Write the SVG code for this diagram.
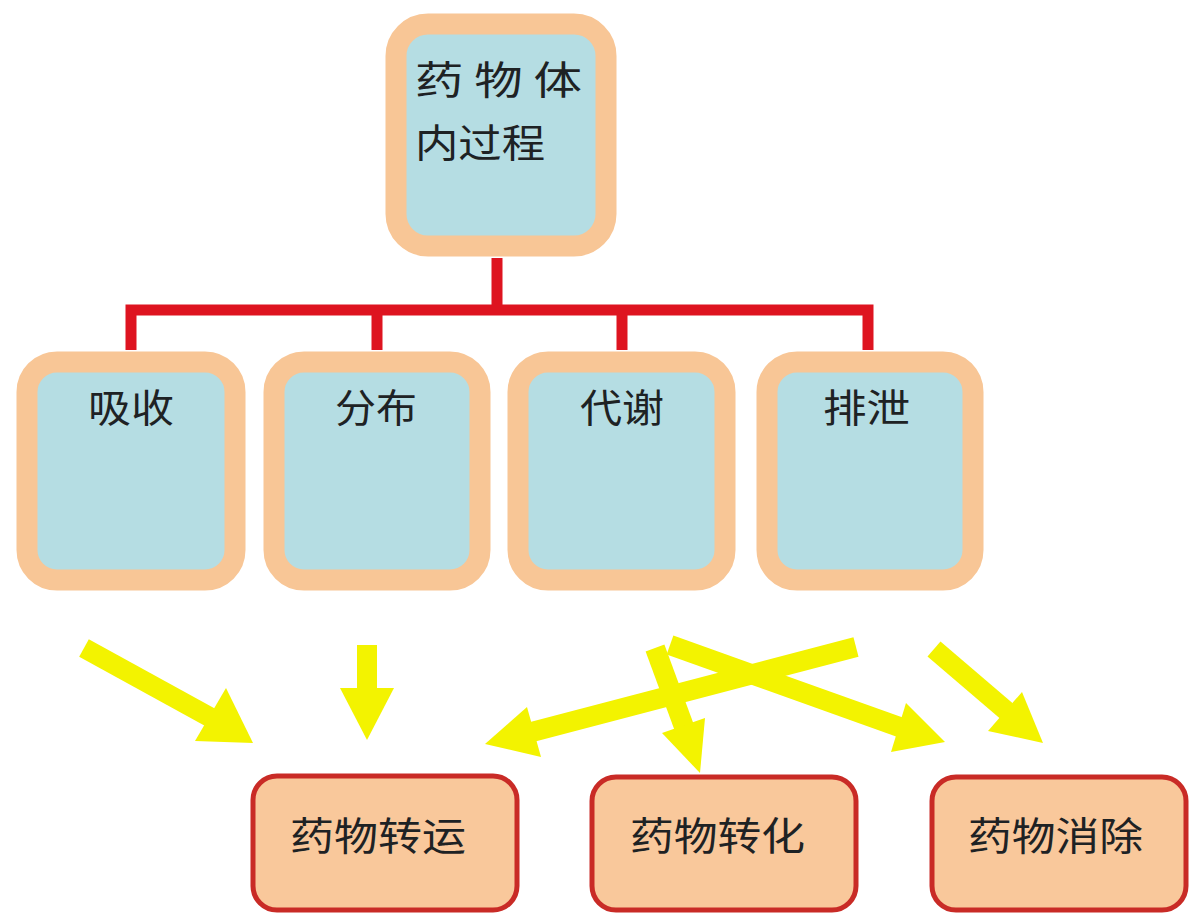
<svg xmlns="http://www.w3.org/2000/svg" width="1191" height="915" viewBox="0 0 1191 915">
<style>
.top{fill:#b5dde3;stroke:#f8c696;stroke-width:21}
.bot{fill:#f9c89b;stroke:#c92b26;stroke-width:5}
.t{font-family:"Noto Sans CJK SC","Noto Sans",sans-serif;font-size:39px;fill:#1e2224}
.red{fill:none;stroke:#de1420;stroke-width:11;stroke-linejoin:miter}
.ys{stroke:#f3f300;stroke-width:20;stroke-linecap:butt;fill:none}
.yh{fill:#f3f300}
</style>
<rect width="1191" height="915" fill="#ffffff"/>
<g id="connectors">
<path class="red" d="M497,258 V310 M131,350 V310 H868 V350 M377,310 V350 M622,310 V350"/>
<g id="a1"><line class="ys" x1="84" y1="648" x2="215" y2="720"/><polygon class="yh" points="253,743 195,741 226,688"/></g>
<g id="a2"><line class="ys" x1="367" y1="645" x2="367" y2="695"/><polygon class="yh" points="367,740 340,688 394,688"/></g>
<g id="a3"><line class="ys" x1="856" y1="647" x2="528" y2="733"/><polygon class="yh" points="485,744 527,707 541,757"/></g>
<g id="a4"><line class="ys" x1="655" y1="648" x2="687" y2="735"/><polygon class="yh" points="700,773 662,733 705,718"/></g>
<g id="a5"><line class="ys" x1="670" y1="645" x2="905" y2="729"/><polygon class="yh" points="945,742 891,752 906,703"/></g>
<g id="a6"><line class="ys" x1="934" y1="649" x2="1010" y2="714"/><polygon class="yh" points="1043,743 988,731 1022,692"/></g>
</g>
<g id="n-root"><rect class="top" x="396" y="24" width="210" height="222" rx="32"/>
<text class="t" x="415" y="94" textLength="167" lengthAdjust="spacingAndGlyphs">药 物 体</text>
<text class="t" x="415" y="157" textLength="130" lengthAdjust="spacingAndGlyphs">内过程</text></g>
<g id="n-absorb"><rect class="top" x="27" y="362" width="208" height="218" rx="30"/>
<text class="t" x="88" y="422" textLength="86" lengthAdjust="spacingAndGlyphs">吸收</text></g>
<g id="n-distrib"><rect class="top" x="274" y="362" width="206" height="218" rx="30"/>
<text class="t" x="335" y="422" textLength="82" lengthAdjust="spacingAndGlyphs">分布</text></g>
<g id="n-metab"><rect class="top" x="518" y="362" width="207" height="218" rx="30"/>
<text class="t" x="580" y="422" textLength="84" lengthAdjust="spacingAndGlyphs">代谢</text></g>
<g id="n-excret"><rect class="top" x="767" y="362" width="206" height="218" rx="30"/>
<text class="t" x="823" y="422" textLength="87" lengthAdjust="spacingAndGlyphs">排泄</text></g>
<g id="n-transport"><rect class="bot" x="253" y="776" width="264" height="134" rx="24"/>
<text class="t" x="290" y="850" textLength="176" lengthAdjust="spacingAndGlyphs">药物转运</text></g>
<g id="n-transform"><rect class="bot" x="592" y="777" width="264" height="133" rx="24"/>
<text class="t" x="630" y="850" textLength="175" lengthAdjust="spacingAndGlyphs">药物转化</text></g>
<g id="n-elim"><rect class="bot" x="932" y="777" width="254" height="133" rx="24"/>
<text class="t" x="968" y="850" textLength="175" lengthAdjust="spacingAndGlyphs">药物消除</text></g>
</svg>
